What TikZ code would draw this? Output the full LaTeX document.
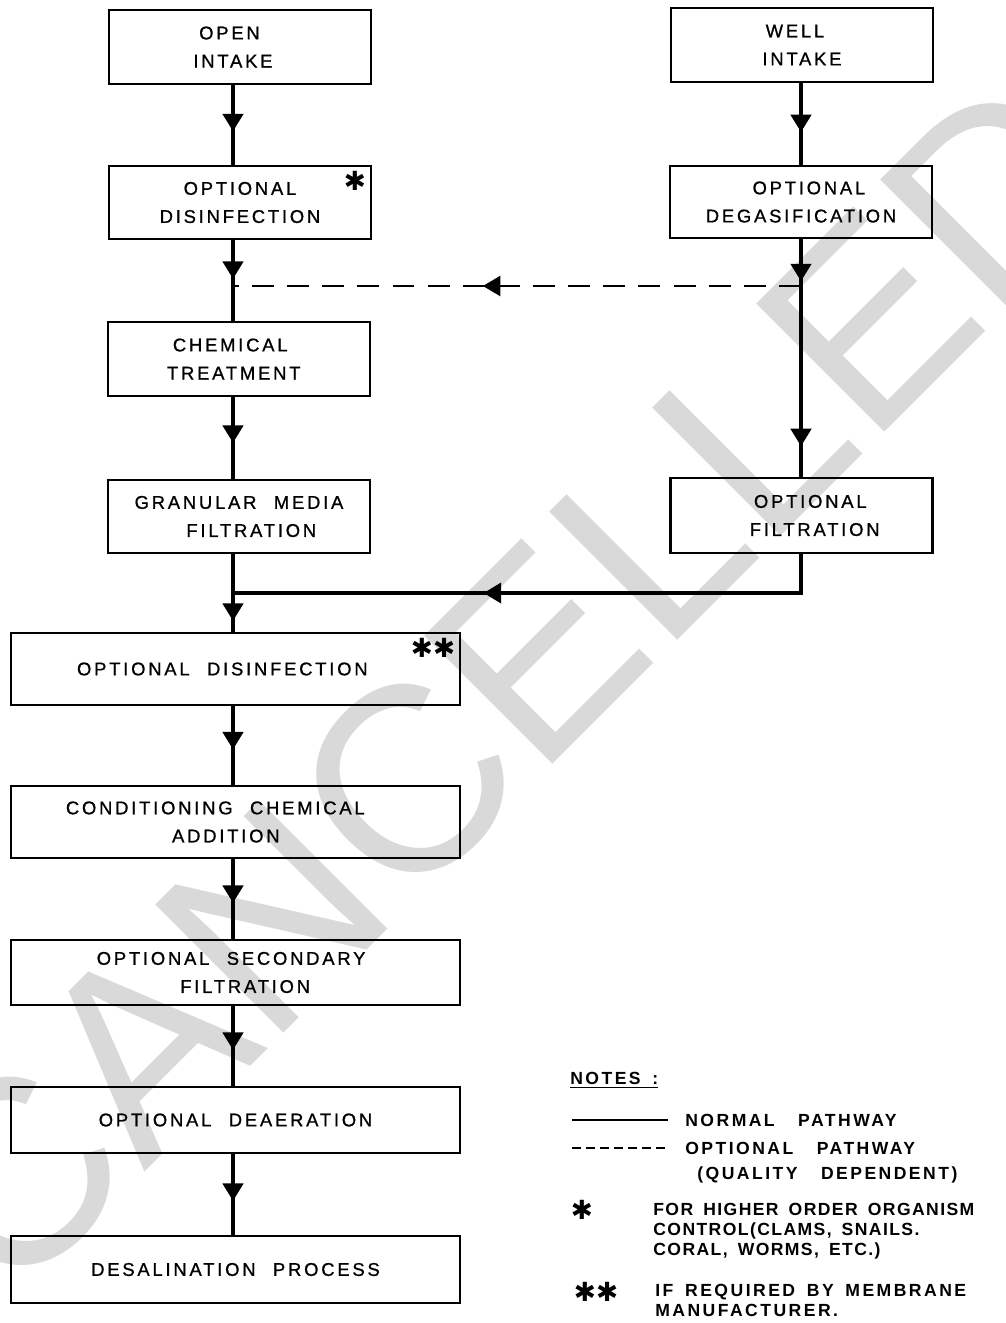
\documentclass[tikz,border=0pt]{standalone}
\usepackage{fontspec}
\setmainfont{Liberation Sans}[LetterSpace=15, WordSpace=2.2, FakeBold=0.9]
\newfontfamily\notefont{Liberation Sans Bold}[LetterSpace=14, WordSpace=1.6]
\newfontfamily\stampfont{Liberation Sans}
\newfontfamily\starfont{DejaVu Sans}
\usetikzlibrary{arrows.meta,decorations.markings}

\begin{document}
\begin{tikzpicture}[x=0.02cm, y=-0.02cm,
  sbox/.style={draw, line width=1.4pt, align=center, inner sep=0pt, minimum width=5.24cm, font=\fontsize{10.5}{16}\selectfont},
  wbox/.style={sbox, minimum width=8.98cm},
  pipe/.style={line width=2.3pt},
  back/.style={line width=1.8pt},
  opt/.style={line width=1.3pt, dash pattern=on 12.5pt off 7.5pt},
  flow/.style={decoration={markings, mark=at position #1 with {\arrow{Triangle[length=10pt,width=11.5pt]}}}, postaction={decorate}},
  flow/.default=0.55,
  star/.style={font=\starfont\fontsize{15}{15}\selectfont, inner sep=0pt},
  note/.style={anchor=west, inner sep=0pt, font=\notefont\fontsize{10}{11.4}\selectfont, align=left}]
\useasboundingbox (0,0) rectangle (1006,1323);

\node[text=black!15, rotate=45, inner sep=0pt, font=\stampfont\fontsize{150}{150}\selectfont] (stamp) at (505,684) {CANCELLED};

\coordinate (lx) at (233,0);
\coordinate (rx) at (801,0);

\node[sbox, minimum height=1.48cm] (openin) at (240,47) {OPEN\hspace*{12pt}\\INTAKE\hspace*{8pt}};
\node[sbox, minimum height=1.46cm] (dis) at (240,202.5) {OPTIONAL\\DISINFECTION};
\node[sbox, minimum height=1.48cm] (chem) at (239,359) {CHEMICAL\hspace*{10pt}\\TREATMENT\hspace*{6pt}};
\node[sbox, minimum height=1.46cm] (gran) at (239,516.5) {GRANULAR MEDIA\\\hspace*{14pt}FILTRATION};
\node[wbox, minimum height=1.44cm] (disb) at (235.5,669) {OPTIONAL DISINFECTION\hspace*{15pt}};
\node[wbox, minimum height=1.44cm] (cond) at (235.5,822) {CONDITIONING CHEMICAL\hspace*{23pt}\\ADDITION\hspace*{11pt}};
\node[wbox, minimum height=1.30cm] (sec) at (235.5,972.5) {OPTIONAL SECONDARY\hspace*{5pt}\\\hspace*{11pt}FILTRATION};
\node[wbox, minimum height=1.32cm] (dea) at (235.5,1120) {OPTIONAL DEAERATION};
\node[wbox, minimum height=1.34cm] (des) at (235.5,1269.5) {DESALINATION PROCESS};

\node[sbox, minimum height=1.48cm] (wellin) at (802,45) {WELL\hspace*{8pt}\\INTAKE};
\node[sbox, minimum height=1.44cm] (degas) at (801,202) {\hspace*{9pt}OPTIONAL\\DEGASIFICATION};
\node[sbox, minimum height=1.50cm] (optfilt) at (801.5,515.5) {\hspace*{10pt}OPTIONAL\\\hspace*{15pt}FILTRATION};

\node[star] (s1) at (355,181) {✱};
\node[star] (s2) at (433,648) {✱✱};

\coordinate (jl) at (233,593);
\coordinate (jo) at (233,286);
\coordinate (jd) at (801,286);

\draw[pipe, flow=0.58] (openin.south -| lx) -- (dis.north -| lx);
\draw[pipe, flow=0.48] (dis.south -| lx) -- (chem.north -| lx);
\draw[pipe, flow=0.56] (chem.south -| lx) -- (gran.north -| lx);
\draw[pipe] (gran.south -| lx) -- (jl);
\draw[pipe, flow=0.72] (jl) -- (disb.north -| lx);
\draw[pipe, flow=0.55] (disb.south -| lx) -- (cond.north -| lx);
\draw[pipe, flow=0.55] (cond.south -| lx) -- (sec.north -| lx);
\draw[pipe, flow=0.55] (sec.south -| lx) -- (dea.north -| lx);
\draw[pipe, flow=0.58] (dea.south -| lx) -- (des.north -| lx);

\draw[pipe, flow=0.6] (wellin.south -| rx) -- (degas.north -| rx);
\draw[pipe, flow=0.9] (degas.south -| rx) -- (jd);
\draw[pipe, flow=0.84] (jd) -- (optfilt.north -| rx);
\draw[opt, flow=0.56] (jd) -- (jo);
\draw[back, flow=0.587] (optfilt.south -| rx) |- (jl);

\node[note] (notes) at (570,1080) {\underline{NOTES :}};
\coordinate (n1a) at (572,1120);
\coordinate (n1b) at (668,1120);
\coordinate (n2a) at (572,1148);
\coordinate (n2b) at (668,1148);
\draw[line width=1.2pt] (n1a) -- (n1b);
\draw[line width=1.2pt, dash pattern=on 5pt off 3pt] (n2a) -- (n2b);
\node[note] (normal) at (685,1120) {NORMAL~~PATHWAY};
\node[note] (optional) at (685,1148) {OPTIONAL~~PATHWAY};
\node[note] (quality) at (697,1175) {(QUALITY~~DEPENDENT)};
\node[star] (s3) at (582,1210) {✱};
\node[note, anchor=north west, font=\notefont\fontsize{10}{11.4}\addfontfeatures{LetterSpace=8}] (higher) at (653,1203) {FOR HIGHER ORDER ORGANISM\\CONTROL(CLAMS, SNAILS.\\CORAL, WORMS, ETC.)};
\node[star] (s4) at (596,1292) {✱✱};
\node[note, anchor=north west] (membrane) at (655,1284) {IF REQUIRED BY MEMBRANE\\MANUFACTURER.};
\end{tikzpicture}
\end{document}
